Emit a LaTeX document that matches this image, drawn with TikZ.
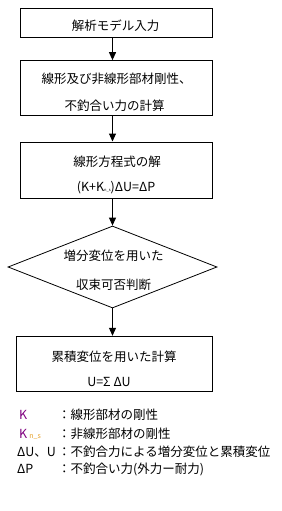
\documentclass[tikz,border=0pt]{standalone}
\usepackage{fontspec}
\setmainfont{Noto Sans CJK JP}
\usetikzlibrary{arrows.meta,shapes.geometric}
\definecolor{kpurple}{RGB}{128,0,128}
\definecolor{subor}{RGB}{230,160,40}
\begin{document}
\begin{tikzpicture}[x=1pt,y=-1pt,
  box/.style={draw,line width=1pt,minimum width=191.8pt,inner sep=0pt},
  dia/.style={draw,line width=0.8pt,diamond,aspect=2.549,minimum width=209pt,minimum height=82pt,inner sep=0pt},
  lbl/.style={inner sep=0pt,font=\fontsize{12.5}{14}\selectfont},
  leg/.style={inner sep=0pt,anchor=west,font=\fontsize{12.5}{14}\selectfont},
  arr/.style={line width=1pt,-{Triangle[length=8pt,width=7pt]}}]
\useasboundingbox (0,0) rectangle (281,511);
\fill[white] (0,0) rectangle (281,511);

\node[box,minimum height=29pt] (b1) at (116.4,22.8) {};
\node[box,minimum height=55.3pt] (b2) at (116.4,88.3) {};
\node[box,minimum height=56pt] (b3) at (116.4,170) {};
\node[dia] (d) at (112.5,267) {};
\node[box,minimum width=196.3pt,minimum height=55.4pt] (b5) at (114.2,364) {};

\node[lbl] (t1) at (115.5,26) {解析モデル入力};
\node[lbl] (t2a) at (116.5,79) {線形及び非線形部材剛性、};
\node[lbl] (t2b) at (114.5,106) {不釣合い力の計算};
\node[lbl] (t3a) at (117,162) {線形方程式の解};
\node[lbl] (t3b) at (116,188) {(K+K{\fontsize{4}{4}\selectfont n\_s})ΔU=ΔP};
\node[lbl] (t4a) at (113.5,256) {増分変位を用いた};
\node[lbl] (t4b) at (113.5,285) {収束可否判断};
\node[lbl] (t5a) at (114,357) {累積変位を用いた計算};
\node[lbl] (t5b) at (109,382) {U=Σ ΔU};

\draw[arr] (b1.south -| d.north) -- (b2.north -| d.north);
\draw[arr] (b2.south -| d.north) -- (b3.north -| d.north);
\draw[arr] (b3.south -| d.north) -- (d.north);
\draw[arr] (d.south) -- (b5.north -| d.south);

\node[leg] (k1) at (19,415) {\color{kpurple}K};
\node[leg] (k2) at (19,434) {{\color{kpurple}K}\,{\color{subor}\fontsize{7}{7}\selectfont n\_s}};
\node[leg] (k3) at (17,452) {ΔU、U};
\node[leg] (k4) at (17,469) {ΔP};
\node[leg] (c1) at (58,415) {：線形部材の剛性};
\node[leg] (c2) at (58,434) {：非線形部材の剛性};
\node[leg] (c3) at (58,452) {：不釣合力による増分変位と累積変位};
\node[leg] (c4) at (58,469) {：不釣合い力(外力ー耐力)};
\end{tikzpicture}
\end{document}
